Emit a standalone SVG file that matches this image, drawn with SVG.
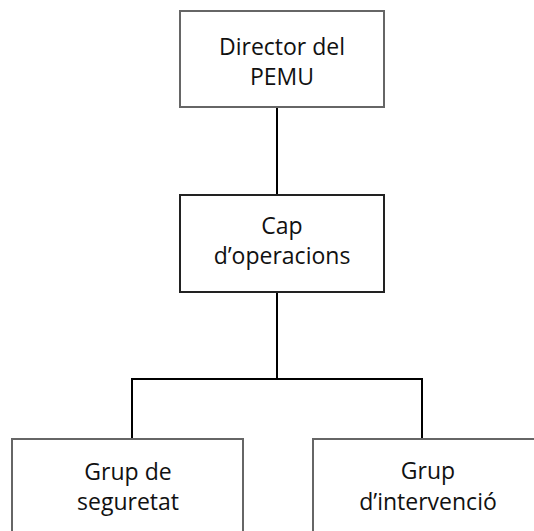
<svg xmlns="http://www.w3.org/2000/svg" width="534" height="531" viewBox="0 0 534 531">
<style>
.box{fill:#fff;stroke:#666;stroke-width:2}
.box2{fill:#fff;stroke:#222;stroke-width:2}
.t{font-family:"Open Sans","Noto Sans",sans-serif;font-size:23px;fill:#111;text-anchor:middle}
.c{fill:none;stroke:#000;stroke-width:2}
</style>
<rect width="534" height="531" fill="#fff"/>
<g id="connectors">
<line class="c" x1="277" y1="107" x2="277" y2="195"/>
<line class="c" x1="277" y1="292" x2="277" y2="379"/>
<polyline class="c" points="132,439 132,379 422,379 422,439"/>
</g>
<g id="director">
<rect class="box" x="180" y="11" width="204" height="96"/>
<text class="t" x="282" y="55">Director del</text>
<text class="t" x="282" y="85">PEMU</text>
</g>
<g id="cap">
<rect class="box2" x="180" y="195" width="204" height="97"/>
<text class="t" x="282" y="234">Cap</text>
<text class="t" x="282" y="264">d’operacions</text>
</g>
<g id="seguretat">
<rect class="box" x="12" y="439" width="231" height="110"/>
<text class="t" x="128" y="480">Grup de</text>
<text class="t" x="128" y="510">seguretat</text>
</g>
<g id="intervencio">
<rect class="box" x="313" y="439" width="231" height="110"/>
<text class="t" x="428" y="479">Grup</text>
<text class="t" x="428" y="510">d’intervenció</text>
</g>
</svg>
